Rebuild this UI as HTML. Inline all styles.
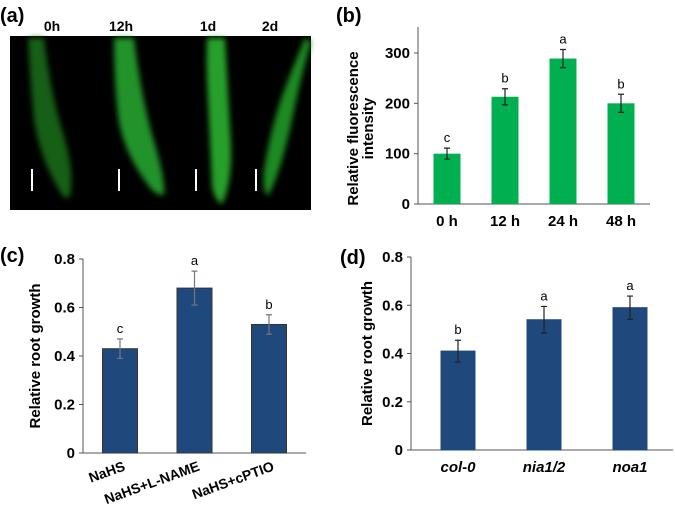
<!DOCTYPE html>
<html><head><meta charset="utf-8"><style>
html,body{margin:0;padding:0;background:#fff;width:675px;height:514px;overflow:hidden}
text{font-family:"Liberation Sans",Arial,sans-serif}
</style></head><body>
<svg id="fig" width="675" height="514" viewBox="0 0 675 514" xmlns="http://www.w3.org/2000/svg">
<defs>
<filter id="blur" x="-50%" y="-50%" width="200%" height="200%"><feGaussianBlur stdDeviation="3"/></filter>
</defs>
<g>
<text x="0" y="22" font-size="20" font-weight="bold">(a)</text>
<rect x="10" y="36" width="301" height="174" fill="#000"/>
<g filter="url(#blur)">
<path d="M28,38 L44,38 Q50,90 62,130 Q75,170 70,196 Q66,200 62,195 Q40,160 34,120 Q30,80 28,38Z" fill="#145f14"/>
<path d="M114,38 L134,38 Q140,90 152,135 Q166,180 164,195 Q156,196 148,185 Q122,150 118,115 Q114,80 114,38Z" fill="#22932a"/>
<path d="M207,38 L225,38 Q228,90 230,130 Q234,180 222,204 Q214,200 212,185 Q210,140 208,100 Q206,70 207,38Z" fill="#27a02c"/>
<path d="M305,38 L311,42 Q300,80 292,120 Q280,175 268,196 Q262,192 264,170 Q272,120 288,80 Q298,55 305,38Z" fill="#1f8a22"/>
</g>
<g stroke="#fff" stroke-width="2">
<line x1="32" y1="169" x2="32" y2="191"/><line x1="119" y1="169" x2="119" y2="191"/>
<line x1="196" y1="169" x2="196" y2="191"/><line x1="256" y1="169" x2="256" y2="191"/>
</g>
<g font-size="14" font-weight="bold" text-anchor="middle">
<text x="52" y="31">0h</text>
<text x="121" y="31">12h</text>
<text x="208" y="31">1d</text>
<text x="270" y="31">2d</text>
</g>
</g>
<g id="pb"><text x="336" y="22" font-size="20" font-weight="bold">(b)</text></g>
<g id="pc"><text x="0" y="262" font-size="20" font-weight="bold">(c)</text></g>
<g id="pd"><text x="340" y="264" font-size="20" font-weight="bold">(d)</text></g>
</svg>
<script>
const bCats=["0 h","12 h","24 h","48 h"];
const bVals=[100,213,289,200];
const bErr=[11,16,18,18];
const bLetters=["c","b","a","b"];
const bTicks=[0,100,200,300];
const cCats=["NaHS","NaHS+L-NAME","NaHS+cPTIO"];
const cVals=[0.43,0.68,0.53];
const cErr=[0.04,0.07,0.04];
const cLetters=["c","a","b"];
const dCats=["col-0","nia1/2","noa1"];
const dVals=[0.41,0.54,0.59];
const dErr=[0.045,0.055,0.048];
const dLetters=["b","a","a"];
const rTicks=[0,0.2,0.4,0.6,0.8];
const NS="http://www.w3.org/2000/svg";
function mk(p,t,a,txt){const e=document.createElementNS(NS,t);for(const k in a)e.setAttribute(k,a[k]);if(txt!=null)e.textContent=txt;p.appendChild(e);return e;}
function chart(g,o){
  const y=v=>o.y0-(v-o.vmin)/(o.vmax-o.vmin)*(o.y0-o.yTop);
  const x=i=>o.x0+o.first+i*o.step;
  let ax=mk(g,'line',{x1:o.x0,y1:o.axTop,x2:o.x0,y2:o.y0,stroke:'#555','stroke-width':1});
  
  let bx=mk(g,'line',{x1:o.x0,y1:o.y0,x2:o.xEnd,y2:o.y0,stroke:'#555','stroke-width':1});
  
  o.ticks.forEach(t=>{
    mk(g,'line',{x1:o.x0-4,y1:y(t),x2:o.x0,y2:y(t),stroke:'#555'});
    let tl=mk(g,'text',{x:o.x0-8,y:y(t)+5,'text-anchor':'end','font-size':15,'font-weight':'bold'},o.fmt(t));
    
  });
  o.vals.forEach((v,i)=>{
    let r=mk(g,'rect',{x:x(i)-o.bw/2,y:y(v),width:o.bw,height:o.y0-y(v),fill:o.fill,stroke:o.stroke,'stroke-width':1});
    
    
    const e=o.err[i],cx=x(i);
    let eb=mk(g,'path',{d:`M${cx},${y(v+e)}V${y(v-e)}M${cx-3},${y(v+e)}H${cx+3}M${cx-3},${y(v-e)}H${cx+3}`,stroke:o.ec,'stroke-width':1.2,fill:'none'});
    
    let lt=mk(g,'text',{x:cx,y:y(v+e)-6,'text-anchor':'middle','font-size':13},o.letters[i]);
    
    let cl;
    if(o.rot){cl=mk(g,'text',{x:cx+6,y:o.y0+17,'text-anchor':'end','font-size':14,'font-weight':'bold',transform:`rotate(-20 ${cx+6} ${o.y0+17})`},o.cats[i]);}
    else cl=mk(g,'text',{x:cx,y:o.y0+22,'text-anchor':'middle','font-size':15,'font-weight':'bold','font-style':o.italic?'italic':'normal'},o.cats[i]);
    
  });
  o.ylab.forEach((s,k)=>{
    const lx=o.ylx+k*15,ly=(o.yTop+o.y0)/2;
    let t=mk(g,'text',{x:lx,y:ly,'text-anchor':'middle','font-size':15,'font-weight':'bold',transform:`rotate(-90 ${lx} ${ly})`},s);
    
  });
}
chart(document.getElementById('pb'),{x0:418,xEnd:650,y0:204,yTop:53,vmin:0,vmax:300,axTop:27,first:29,step:58,bw:27,
 ticks:bTicks,fmt:t=>String(t),vals:bVals,err:bErr,letters:bLetters,cats:bCats,fill:'#00b050',stroke:'none',ec:'#222',ylab:["Relative fluorescence","intensity"],ylx:358});
chart(document.getElementById('pc'),{x0:83,xEnd:306,y0:453,yTop:259,vmin:0,vmax:0.8,axTop:259,first:37,step:74.5,bw:35,
 ticks:rTicks,fmt:t=>t===0?'0':t.toFixed(1),vals:cVals,err:cErr,letters:cLetters,cats:cCats,fill:'#1f497d',stroke:'#333',ec:'#777',rot:true,ylab:["Relative root growth"],ylx:40});
chart(document.getElementById('pd'),{x0:411,xEnd:673,y0:450,yTop:257,vmin:0,vmax:0.8,axTop:257,first:47,step:86,bw:34,
 ticks:rTicks,fmt:t=>t===0?'0':t.toFixed(1),vals:dVals,err:dErr,letters:dLetters,cats:dCats,fill:'#1f497d',stroke:'#1f497d',ec:'#222',italic:true,ylab:["Relative root growth"],ylx:372});
</script>
</body></html>
